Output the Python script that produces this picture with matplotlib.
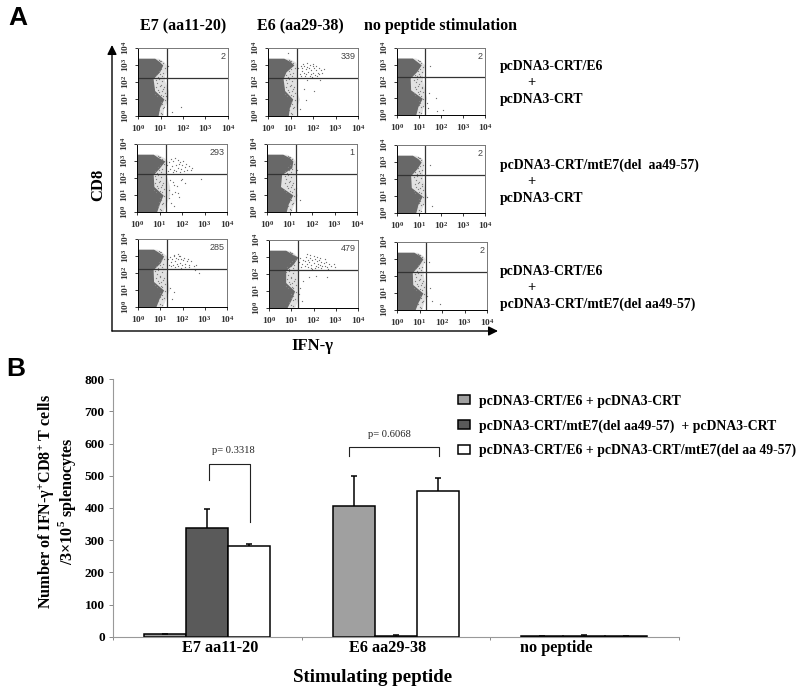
import matplotlib
matplotlib.use('Agg')
import matplotlib.pyplot as plt
import numpy as np

plt.rcParams['font.family'] = ['Liberation Serif', 'DejaVu Serif']
plt.rcParams['font.weight'] = 'bold'
plt.rcParams['mathtext.fontset'] = 'custom'
plt.rcParams['mathtext.rm'] = 'Liberation Sans'
plt.rcParams['mathtext.bf'] = 'Liberation Serif:bold'

W = 800
H = 691

# panel B
peptides = ['E7 aa11-20', 'E6 aa29-38', 'no peptide']
peptide_px = [220, 388, 556]
crt_e6 = [7, 407, 2]
crt_e6_err = [2, 94, 1]
crt_mte7 = [338, 3, 3]
crt_mte7_err = [60, 2, 2]
crt_both = [281, 452, 2]
crt_both_err = [8, 42, 1]
legend_names = ['pcDNA3-CRT/E6 + pcDNA3-CRT',
                'pcDNA3-CRT/mtE7(del aa49-57)  + pcDNA3-CRT',
                'pcDNA3-CRT/E6 + pcDNA3-CRT/mtE7(del aa 49-57)']

# panel A, everything in log10 units
col_titles = ['E7 (aa11-20)', 'E6 (aa29-38)', 'no peptide stimulation']
counts = ['2', '339', '2', '293', '1', '2', '285', '479', '2']
blob_y = [0, 0.5, 1.0, 1.5, 2.2, 2.6, 3.0, 3.2, 3.4]

dense_1 = [0.89, 0.96, 1.15, 0.74, 0.67, 0.96, 1.1, 0.95, 0.74]
dense_2 = [0.9, 0.95, 1.1, 0.74, 0.67, 0.8, 1.15, 1.0, 0.7]
dense_3 = [0.85, 0.95, 1.15, 0.62, 0.6, 0.9, 1.1, 0.9, 0.7]
dense_4 = [0.87, 1.0, 1.16, 0.75, 0.72, 1.0, 1.24, 0.95, 0.72]
dense_5 = [0.85, 0.95, 1.15, 0.6, 0.65, 1.1, 1.15, 1.0, 0.7]
dense_6 = [0.85, 0.95, 1.15, 0.65, 0.62, 0.9, 1.1, 0.95, 0.7]
dense_7 = [0.8, 0.95, 1.15, 0.7, 0.68, 1.0, 1.15, 0.95, 0.7]
dense_8 = [0.8, 1.0, 1.15, 0.75, 0.75, 1.1, 1.3, 1.0, 0.75]
dense_9 = [0.8, 0.95, 1.15, 0.7, 0.68, 0.95, 1.15, 1.0, 0.75]

fringe_1 = [1.1, 1.15, 1.35, 1.35, 1.15, 1.25, 1.25, 1.15, 0.9]
fringe_2 = [1.2, 1.25, 1.4, 1.25, 1.25, 1.3, 1.3, 1.2, 0.9]
fringe_3 = [1.1, 1.2, 1.35, 1.25, 1.15, 1.2, 1.25, 1.1, 0.85]
fringe_4 = [1.15, 1.3, 1.45, 1.45, 1.3, 1.3, 1.35, 1.2, 0.9]
fringe_5 = [1.05, 1.2, 1.35, 1.2, 1.25, 1.28, 1.25, 1.15, 0.85]
fringe_6 = [1.05, 1.2, 1.35, 1.25, 1.15, 1.2, 1.2, 1.15, 0.85]
fringe_7 = [1.1, 1.25, 1.4, 1.35, 1.25, 1.3, 1.3, 1.1, 0.85]
fringe_8 = [1.15, 1.3, 1.35, 1.3, 1.3, 1.3, 1.3, 1.15, 0.9]
fringe_9 = [1.1, 1.2, 1.35, 1.25, 1.15, 1.15, 1.25, 1.15, 0.9]

# speckle that sits just off the dense cloud, seen in every panel
speck_x = [0.78, 0.85, 0.92, 1.0, 1.08, 1.15, 0.8, 0.88, 0.97, 1.05, 1.12, 1.2, 0.76, 0.84, 0.95,
           1.02, 1.1, 0.82, 0.9, 0.98, 1.06, 1.14, 0.95, 1.03, 1.12, 1.18, 0.92, 1.0, 1.1, 0.98,
           1.06, 1.16, 1.0, 1.08, 1.2, 0.98, 1.1, 0.95, 1.04]
speck_y = [2.1, 1.95, 2.15, 1.85, 2.05, 1.7, 1.7, 1.55, 1.75, 1.45, 1.6, 1.35, 1.3, 1.2, 1.4,
           1.25, 1.15, 2.4, 2.3, 2.45, 2.35, 2.25, 2.65, 2.75, 2.55, 2.85, 0.35, 0.2, 0.45, 0.6,
           0.7, 0.55, 0.85, 0.12, 0.95, 3.25, 3.12, 3.3, 3.22]

dots_1_x = [1.35, 1.25, 1.9, 1.5]
dots_1_y = [2.95, 1.2, 0.55, 0.25]
dots_2_x = [1.33, 1.4, 1.45, 1.5, 1.52, 1.6, 1.62, 1.68, 1.7, 1.75, 1.78, 1.82, 1.85, 1.9, 1.92,
            1.98, 2.0, 2.05, 2.08, 2.12, 2.15, 2.2, 2.25, 2.28, 2.35, 2.42, 2.5, 1.55, 1.72, 1.88,
            2.02, 2.18, 1.45, 1.65, 1.95, 1.6, 1.7, 0.9, 1.4, 2.05, 1.75, 2.3]
dots_2_y = [2.85, 2.5, 2.95, 2.65, 2.8, 2.55, 2.95, 2.75, 2.45, 2.9, 2.6, 2.8, 3.0, 2.5, 2.7,
            2.95, 2.55, 2.8, 2.4, 2.7, 2.95, 2.55, 2.85, 2.45, 2.7, 2.55, 2.75, 3.05, 3.1, 2.35,
            3.05, 2.35, 2.35, 2.35, 2.3, 1.6, 0.95, 3.7, 0.4, 1.5, 2.1, 2.1]
dots_3_x = [1.5, 1.35, 1.4, 1.75, 1.8, 2.1, 1.45]
dots_3_y = [2.95, 0.7, 0.4, 1.0, 0.25, 0.3, 1.3]
dots_4_x = [1.33, 1.38, 1.42, 1.48, 1.5, 1.55, 1.58, 1.62, 1.65, 1.7, 1.72, 1.75, 1.8, 1.82, 1.85,
            1.9, 1.92, 1.95, 2.0, 2.05, 2.08, 2.12, 2.18, 2.22, 2.3, 2.38, 2.45, 1.45, 1.6, 1.78,
            1.95, 2.15, 1.4, 1.55, 1.7, 1.85, 1.5, 1.65, 1.8, 2.0, 2.85, 1.4, 1.65]
dots_4_y = [2.75, 2.4, 2.95, 2.55, 3.1, 2.7, 2.35, 3.0, 2.5, 3.2, 2.75, 2.4, 3.05, 2.6, 2.85,
            2.35, 2.95, 2.55, 2.75, 3.0, 2.4, 2.65, 2.85, 2.5, 2.7, 2.45, 2.6, 1.9, 1.75, 1.55,
            1.9, 1.7, 1.3, 1.05, 1.2, 0.9, 0.55, 0.35, 1.1, 1.95, 1.95, 0.8, 1.6]
dots_5_x = [1.35, 1.45, 1.3]
dots_5_y = [2.5, 0.7, 1.4]
dots_6_x = [1.5, 1.35, 1.6]
dots_6_y = [2.8, 0.95, 0.4]
dots_7_x = [1.33, 1.4, 1.45, 1.5, 1.55, 1.58, 1.62, 1.68, 1.72, 1.75, 1.8, 1.85, 1.88, 1.92, 1.98,
            2.02, 2.08, 2.12, 2.18, 2.25, 2.3, 2.4, 2.5, 2.6, 1.5, 1.65, 1.8, 1.95, 2.1, 2.3,
            1.62, 1.78, 1.9, 2.55, 1.45, 1.6, 1.55, 2.75]
dots_7_y = [2.8, 2.5, 2.95, 2.65, 2.85, 2.5, 3.0, 2.7, 2.9, 2.55, 2.8, 3.0, 2.6, 2.85, 2.5,
            2.75, 2.9, 2.55, 2.7, 2.85, 2.45, 2.7, 2.4, 2.5, 2.4, 2.35, 2.4, 2.3, 2.35, 2.35,
            3.05, 3.1, 3.0, 2.2, 1.1, 0.9, 0.45, 2.0]
dots_8_x = [1.35, 1.4, 1.5, 1.55, 1.6, 1.65, 1.7, 1.75, 1.8, 1.85, 1.9, 1.95, 2.0, 2.05, 2.1,
            2.15, 2.2, 2.25, 2.3, 2.35, 2.4, 2.45, 2.5, 2.55, 2.6, 2.7, 2.8, 2.9, 1.45, 1.6,
            1.75, 1.9, 2.05, 2.2, 2.35, 1.7, 1.85, 2.0, 2.15, 2.3, 2.5, 1.95, 2.65, 2.95,
            1.55, 1.8, 1.4, 2.1, 2.6, 1.5, 1.35]
dots_8_y = [2.7, 2.95, 2.6, 2.85, 2.75, 3.0, 2.6, 2.85, 2.7, 2.95, 2.55, 2.8, 2.65, 2.9, 2.5,
            2.75, 2.6, 2.85, 2.55, 2.7, 2.45, 2.65, 2.5, 2.7, 2.4, 2.6, 2.45, 2.6, 2.4, 2.45,
            2.4, 2.35, 2.35, 2.4, 2.35, 3.15, 3.1, 3.05, 3.0, 2.95, 2.9, 2.3, 2.3, 2.4,
            1.6, 1.85, 1.15, 1.9, 1.8, 0.4, 0.8]
dots_9_x = [1.4, 1.45, 1.55, 1.9, 1.35]
dots_9_y = [2.85, 1.3, 0.55, 0.35, 0.85]

gate_x = 1.29
gate_y = 2.24

panel_boxes = [(138, 48, 228, 116), (268, 48, 358, 116), (397, 48, 485, 115),
               (137, 144, 227, 212), (267, 144, 357, 212), (397, 145, 485, 213),
               (138, 239, 227, 307), (269, 240, 358, 308), (397, 242, 487, 310)]
denses = [dense_1, dense_2, dense_3, dense_4, dense_5, dense_6, dense_7, dense_8, dense_9]
fringes = [fringe_1, fringe_2, fringe_3, fringe_4, fringe_5, fringe_6, fringe_7, fringe_8, fringe_9]
dots_x = [dots_1_x, dots_2_x, dots_3_x, dots_4_x, dots_5_x, dots_6_x, dots_7_x, dots_8_x, dots_9_x]
dots_y = [dots_1_y, dots_2_y, dots_3_y, dots_4_y, dots_5_y, dots_6_y, dots_7_y, dots_8_y, dots_9_y]


def px_axes(fig, left, top, right, bottom):
    return fig.add_axes([left / W, 1 - bottom / H, (right - left) / W, (bottom - top) / H])


def power_label(v, pos):
    return r'$\mathregular{10^{%d}}$' % round(np.log10(v))


fig = plt.figure(figsize=(W / 100, H / 100), dpi=100)

for i, box in enumerate(panel_boxes):
    ax = px_axes(fig, *box)
    ax.set_xscale('log')
    ax.set_yscale('log')
    ax.set_xlim(1, 1e4)
    ax.set_ylim(1, 1e4)
    ys = 10.0 ** np.array(blob_y)
    ax.fill_betweenx(ys, 1, 10.0 ** np.array(fringes[i]), color='#e2e2e2', lw=0)
    ax.fill_betweenx(ys, 1, 10.0 ** np.array(denses[i]), color='#686868', lw=0)
    # snap off, dots this small vanish when they are pixel snapped
    ax.scatter(10.0 ** np.array(speck_x), 10.0 ** np.array(speck_y), s=0.7, marker='s',
               color='#808080', linewidths=0, snap=False)
    ax.scatter(10.0 ** np.array(dots_x[i]), 10.0 ** np.array(dots_y[i]), s=0.7, marker='s',
               color='#707070', linewidths=0, snap=False)
    ax.axvline(10 ** gate_x, color='#333333', lw=0.9)
    ax.axhline(10 ** gate_y, color='#333333', lw=0.9)
    ax.text(0.97, 0.87, counts[i], transform=ax.transAxes, ha='right', va='center',
            family='Liberation Sans', weight='normal', fontsize=6.5, color='#444444')
    for axis in [ax.xaxis, ax.yaxis]:
        axis.set_major_locator(matplotlib.ticker.LogLocator(base=10, numticks=5))
        axis.set_major_formatter(matplotlib.ticker.FuncFormatter(power_label))
    ax.tick_params(which='major', length=2.5, width=0.7, pad=2.5, labelsize=6.8, colors='#333333')
    ax.tick_params(which='minor', length=1.3, width=0.4, colors='#333333')
    ax.tick_params(axis='y', labelrotation=90)
    for lab in ax.get_yticklabels():
        lab.set_va('center')
    for side in ['top', 'right']:
        ax.spines[side].set_color('#777777')
    for side in ax.spines:
        ax.spines[side].set_linewidth(0.7)

# bar chart
ax = px_axes(fig, 113, 379.3, 678.7, 636.7)
x = np.arange(len(peptides)) + 0.5
bw = 42 / 188.5
err_style = dict(ecolor='black', elinewidth=1.1, capsize=2.2, capthick=1.1)
lows = np.zeros(len(peptides))
b1 = ax.bar(x - bw, crt_e6, bw, yerr=[lows, crt_e6_err], color='#a0a0a0', edgecolor='black',
            linewidth=1.1, error_kw=err_style)
b2 = ax.bar(x, crt_mte7, bw, yerr=[lows, crt_mte7_err], color='#5a5a5a', edgecolor='black',
            linewidth=1.1, error_kw=err_style)
b3 = ax.bar(x + bw, crt_both, bw, yerr=[lows, crt_both_err], color='white', edgecolor='black',
            linewidth=1.1, error_kw=err_style)
for b in [b1, b2, b3]:
    b.errorbar.lines[1][0].set_visible(False)
ax.set_xlim(0, 3)
ax.set_ylim(0, 800)
ax.set_xticks([0, 1, 2, 3])
ax.set_xticklabels([])
ax.set_yticks(np.arange(0, 801, 100))
ax.tick_params(axis='y', length=3, width=0.7, color='#888888', labelsize=9.6, pad=3)
ax.tick_params(axis='x', length=2, width=0.7, color='#888888')
ax.spines['top'].set_visible(False)
ax.spines['right'].set_visible(False)
ax.spines['left'].set_color('#999999')
ax.spines['bottom'].set_color('#999999')
ax.set_ylabel('Number of IFN-γ$^{\\mathbf{+}}$CD8$^{\\mathbf{+}}$ T cells\n/3×10$^{\\mathbf{5}}$ splenocytes',
              fontsize=11.6, fontweight='bold', linespacing=0.93)
ax.yaxis.set_label_coords(-0.062, 0.527)
fig.legend([b1, b2, b3], legend_names, loc='upper left', bbox_to_anchor=(454 / W, 1 - 390.5 / H),
           frameon=False, fontsize=9.9, handlelength=0.85, handleheight=0.6, handletextpad=0.7,
           labelspacing=0.83, borderpad=0.3, borderaxespad=0)

# overlay in reference pixels for the loose text and arrows
ov = fig.add_axes([0, 0, 1, 1], facecolor='none')
ov.set_xlim(0, W)
ov.set_ylim(H, 0)
ov.axis('off')

ov.text(18, 18, 'A', family='Liberation Sans', weight='bold', fontsize=19, ha='center', va='center')
ov.text(16, 369, 'B', family='Liberation Sans', weight='bold', fontsize=19, ha='center', va='center')

for tx, t in zip([183, 300, 440], col_titles):
    ov.text(tx, 26, t, fontsize=11.5, ha='center', va='center')

row_text = [('pcDNA3-CRT/E6', 'pcDNA3-CRT', 66),
            ('pcDNA3-CRT/mtE7(del  aa49-57)', 'pcDNA3-CRT', 165),
            ('pcDNA3-CRT/E6', 'pcDNA3-CRT/mtE7(del aa49-57)', 271)]
for top, bottom, y0 in row_text:
    ov.text(500, y0, top, fontsize=9.9, va='center')
    ov.text(531, y0 + 16.5, '+', fontsize=10.5, ha='center', va='center')
    ov.text(500, y0 + 33, bottom, fontsize=9.9, va='center')

arrow = dict(arrowstyle='-|>', color='black', lw=1, mutation_scale=14, shrinkA=0, shrinkB=0)
ov.annotate('', xy=(112, 45), xytext=(112, 331), arrowprops=arrow)
ov.annotate('', xy=(498, 331), xytext=(112, 331), arrowprops=arrow)
ov.text(98, 185, 'CD8', fontsize=12, rotation=90, ha='center', va='center')
ov.text(312, 346, 'IFN-γ', fontsize=12, ha='center', va='center')

for tx, t in zip(peptide_px, peptides):
    ov.text(tx, 648, t, fontsize=11.7, ha='center', va='center')
ov.text(373, 677, 'Stimulating peptide', fontsize=13.6, ha='center', va='center')

ov.plot([209, 209, 250.3, 250.3], [480, 463.7, 463.7, 521.7], color='#222222', lw=0.8)
ov.plot([349, 349, 439.3, 439.3], [455.7, 447, 447, 455.7], color='#222222', lw=0.8)
ov.text(233, 450.5, 'p= 0.3318', fontsize=7.6, weight='normal', color='#222222', ha='center', va='center')
ov.text(389, 434, 'p= 0.6068', fontsize=7.6, weight='normal', color='#222222', ha='center', va='center')

fig.savefig('out.png', dpi=100)
